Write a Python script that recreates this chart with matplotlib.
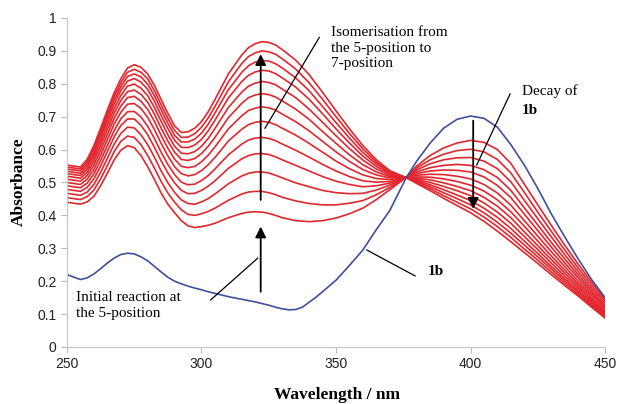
import matplotlib
matplotlib.use("Agg")
import matplotlib.pyplot as plt

# wavelength grid (nm) the red spectra were read at
wavelength = [250, 255, 257.5, 260, 262.5, 265, 267.5, 270, 272.5, 275,
              277.5, 280, 282.5, 285, 287.5, 290, 292.5, 295, 297.5, 300,
              302.5, 305, 310, 315, 317.5, 320, 322.5, 325, 327.5, 330,
              335, 340, 345, 350, 355, 360, 365, 370, 376, 380,
              385, 390, 395, 400, 405, 410, 415, 420, 425, 430,
              435, 440, 445, 450]

# compound 1b (blue)
wavelength_1b = [250, 255, 257.5, 260, 262.5, 265, 267.5, 270, 272.5, 275,
                 277.5, 280, 282.5, 285, 287.5, 290, 292.5, 295, 297.5, 300,
                 302.5, 305, 310, 315, 317.5, 320, 322.5, 325, 327.5, 330,
                 332.5, 335, 337.5, 340, 342.5, 345, 350, 355, 360, 365,
                 370, 376, 380, 385, 390, 395, 400, 405, 410, 415,
                 420, 425, 430, 435, 440, 445, 450]
abs_1b = [0.220, 0.205, 0.210, 0.222, 0.238, 0.255, 0.270, 0.281, 0.285, 0.283,
          0.274, 0.262, 0.245, 0.228, 0.212, 0.200, 0.192, 0.185, 0.179, 0.174,
          0.168, 0.163, 0.153, 0.145, 0.141, 0.137, 0.132, 0.127, 0.121, 0.116,
          0.113, 0.114, 0.121, 0.136, 0.151, 0.168, 0.203, 0.248, 0.295, 0.357,
          0.415, 0.513, 0.565, 0.620, 0.665, 0.692, 0.702, 0.695, 0.668, 0.615,
          0.553, 0.482, 0.405, 0.335, 0.268, 0.205, 0.150]

# red spectra, first scan to last scan
scan_00 = [0.440, 0.434, 0.441, 0.458, 0.490, 0.528, 0.568, 0.598, 0.612, 0.606,
           0.582, 0.548, 0.509, 0.468, 0.434, 0.408, 0.384, 0.368, 0.363, 0.366,
           0.370, 0.376, 0.393, 0.406, 0.410, 0.411, 0.410, 0.406, 0.400, 0.393,
           0.384, 0.381, 0.384, 0.392, 0.405, 0.422, 0.448, 0.478, 0.515, 0.550,
           0.582, 0.605, 0.620, 0.628, 0.622, 0.600, 0.558, 0.495, 0.432, 0.370,
           0.310, 0.252, 0.197, 0.145]
scan_01 = [0.454, 0.448, 0.457, 0.477, 0.511, 0.551, 0.593, 0.625, 0.641, 0.637,
           0.615, 0.582, 0.544, 0.503, 0.468, 0.440, 0.417, 0.403, 0.400, 0.405,
           0.412, 0.422, 0.446, 0.465, 0.471, 0.473, 0.473, 0.469, 0.463, 0.455,
           0.444, 0.436, 0.432, 0.432, 0.437, 0.445, 0.463, 0.485, 0.515, 0.544,
           0.569, 0.586, 0.597, 0.601, 0.593, 0.570, 0.529, 0.470, 0.410, 0.352,
           0.295, 0.240, 0.188, 0.138]
scan_02 = [0.467, 0.461, 0.471, 0.494, 0.531, 0.573, 0.616, 0.649, 0.668, 0.666,
           0.645, 0.615, 0.577, 0.535, 0.499, 0.470, 0.447, 0.436, 0.434, 0.441,
           0.451, 0.465, 0.496, 0.520, 0.528, 0.532, 0.532, 0.529, 0.522, 0.514,
           0.499, 0.487, 0.476, 0.469, 0.466, 0.467, 0.477, 0.492, 0.515, 0.538,
           0.557, 0.569, 0.575, 0.576, 0.565, 0.542, 0.502, 0.446, 0.390, 0.335,
           0.281, 0.229, 0.179, 0.132]
scan_03 = [0.479, 0.473, 0.485, 0.511, 0.550, 0.594, 0.638, 0.673, 0.693, 0.693,
           0.674, 0.645, 0.607, 0.566, 0.529, 0.499, 0.476, 0.466, 0.467, 0.476,
           0.489, 0.505, 0.543, 0.572, 0.582, 0.587, 0.588, 0.585, 0.578, 0.569,
           0.552, 0.535, 0.518, 0.504, 0.494, 0.487, 0.490, 0.498, 0.515, 0.532,
           0.545, 0.552, 0.555, 0.552, 0.539, 0.515, 0.476, 0.423, 0.371, 0.318,
           0.268, 0.219, 0.171, 0.125]
scan_04 = [0.490, 0.484, 0.498, 0.526, 0.567, 0.612, 0.657, 0.693, 0.715, 0.716,
           0.699, 0.671, 0.634, 0.592, 0.555, 0.524, 0.501, 0.493, 0.495, 0.506,
           0.521, 0.541, 0.584, 0.617, 0.629, 0.635, 0.637, 0.634, 0.627, 0.617,
           0.598, 0.577, 0.555, 0.535, 0.518, 0.505, 0.501, 0.503, 0.515, 0.527,
           0.535, 0.538, 0.537, 0.532, 0.517, 0.491, 0.454, 0.404, 0.354, 0.304,
           0.256, 0.210, 0.164, 0.120]
scan_05 = [0.500, 0.494, 0.510, 0.540, 0.583, 0.630, 0.677, 0.713, 0.738, 0.740,
           0.725, 0.698, 0.661, 0.619, 0.581, 0.548, 0.527, 0.520, 0.524, 0.536,
           0.554, 0.576, 0.626, 0.662, 0.676, 0.683, 0.686, 0.683, 0.676, 0.665,
           0.644, 0.619, 0.592, 0.565, 0.542, 0.523, 0.512, 0.509, 0.515, 0.522,
           0.525, 0.524, 0.519, 0.511, 0.494, 0.468, 0.431, 0.384, 0.337, 0.290,
           0.245, 0.200, 0.157, 0.115]
scan_06 = [0.510, 0.504, 0.521, 0.553, 0.598, 0.646, 0.694, 0.732, 0.758, 0.762,
           0.747, 0.722, 0.686, 0.643, 0.604, 0.571, 0.549, 0.545, 0.549, 0.563,
           0.583, 0.608, 0.663, 0.703, 0.719, 0.726, 0.730, 0.727, 0.720, 0.708,
           0.685, 0.657, 0.625, 0.593, 0.564, 0.539, 0.523, 0.514, 0.515, 0.517,
           0.516, 0.511, 0.503, 0.492, 0.474, 0.447, 0.411, 0.367, 0.322, 0.277,
           0.234, 0.192, 0.150, 0.109]
scan_07 = [0.519, 0.513, 0.531, 0.565, 0.612, 0.661, 0.710, 0.749, 0.776, 0.781,
           0.768, 0.744, 0.708, 0.665, 0.626, 0.592, 0.570, 0.567, 0.573, 0.588,
           0.610, 0.637, 0.697, 0.741, 0.758, 0.766, 0.770, 0.767, 0.760, 0.748,
           0.723, 0.692, 0.655, 0.619, 0.584, 0.554, 0.532, 0.518, 0.515, 0.513,
           0.508, 0.499, 0.488, 0.475, 0.455, 0.428, 0.393, 0.350, 0.308, 0.266,
           0.225, 0.185, 0.144, 0.105]
scan_08 = [0.527, 0.521, 0.540, 0.576, 0.624, 0.675, 0.724, 0.764, 0.793, 0.799,
           0.787, 0.764, 0.728, 0.686, 0.645, 0.610, 0.589, 0.587, 0.594, 0.610,
           0.634, 0.664, 0.728, 0.775, 0.793, 0.802, 0.807, 0.804, 0.797, 0.784,
           0.758, 0.723, 0.683, 0.642, 0.603, 0.568, 0.541, 0.522, 0.515, 0.509,
           0.500, 0.488, 0.475, 0.460, 0.438, 0.410, 0.376, 0.336, 0.296, 0.255,
           0.216, 0.178, 0.139, 0.101]
scan_09 = [0.534, 0.528, 0.548, 0.586, 0.636, 0.688, 0.738, 0.779, 0.808, 0.816,
           0.805, 0.783, 0.747, 0.704, 0.664, 0.628, 0.607, 0.606, 0.614, 0.631,
           0.657, 0.689, 0.757, 0.807, 0.826, 0.836, 0.841, 0.839, 0.831, 0.818,
           0.790, 0.753, 0.709, 0.663, 0.620, 0.580, 0.549, 0.526, 0.515, 0.506,
           0.493, 0.478, 0.462, 0.445, 0.422, 0.394, 0.360, 0.322, 0.284, 0.245,
           0.208, 0.171, 0.134, 0.098]
scan_10 = [0.541, 0.535, 0.556, 0.595, 0.646, 0.699, 0.750, 0.791, 0.822, 0.830,
           0.821, 0.799, 0.764, 0.721, 0.680, 0.643, 0.623, 0.623, 0.632, 0.650,
           0.677, 0.711, 0.782, 0.835, 0.855, 0.866, 0.871, 0.869, 0.861, 0.848,
           0.818, 0.779, 0.731, 0.682, 0.635, 0.591, 0.556, 0.530, 0.515, 0.503,
           0.487, 0.469, 0.451, 0.432, 0.408, 0.379, 0.346, 0.310, 0.274, 0.237,
           0.201, 0.166, 0.129, 0.094]
scan_11 = [0.547, 0.541, 0.563, 0.604, 0.655, 0.709, 0.761, 0.803, 0.835, 0.844,
           0.835, 0.815, 0.779, 0.736, 0.695, 0.658, 0.637, 0.638, 0.648, 0.668,
           0.696, 0.731, 0.806, 0.862, 0.883, 0.894, 0.900, 0.897, 0.890, 0.876,
           0.845, 0.803, 0.753, 0.700, 0.649, 0.602, 0.562, 0.533, 0.515, 0.500,
           0.481, 0.460, 0.440, 0.420, 0.395, 0.366, 0.333, 0.298, 0.264, 0.228,
           0.194, 0.160, 0.125, 0.091]
scan_12 = [0.553, 0.547, 0.570, 0.612, 0.665, 0.720, 0.772, 0.815, 0.848, 0.858,
           0.850, 0.830, 0.795, 0.752, 0.710, 0.672, 0.652, 0.654, 0.665, 0.685,
           0.715, 0.752, 0.830, 0.888, 0.910, 0.922, 0.928, 0.926, 0.918, 0.904,
           0.872, 0.828, 0.774, 0.718, 0.663, 0.612, 0.569, 0.536, 0.515, 0.497,
           0.475, 0.452, 0.430, 0.408, 0.382, 0.352, 0.320, 0.287, 0.254, 0.220,
           0.187, 0.155, 0.121, 0.088]

scans = [scan_00, scan_01, scan_02, scan_03, scan_04, scan_05, scan_06,
         scan_07, scan_08, scan_09, scan_10, scan_11, scan_12]

xticks = [250, 300, 350, 400, 450]
yticks = [0, 0.1, 0.2, 0.3, 0.4, 0.5, 0.6, 0.7, 0.8, 0.9, 1]
ytick_labels = ["0", "0.1", "0.2", "0.3", "0.4", "0.5", "0.6", "0.7", "0.8", "0.9", "1"]

RED = "#e3262e"
BLUE = "#3f4f9e"
SERIF = "Liberation Serif"
SANS = "Liberation Sans"

fig = plt.figure(figsize=(6.18, 4.04), dpi=100)
ax = fig.add_axes([0.1084, 0.1411, 0.8706, 0.8144])

for s in scans:
    ax.plot(wavelength, s, color=RED, lw=1.2, solid_joinstyle="round")
ax.plot(wavelength_1b, abs_1b, color=BLUE, lw=1.2, solid_joinstyle="round")

ax.set_xlim(250, 450)
ax.set_ylim(0, 1)
ax.set_xticks(xticks)
ax.set_yticks(yticks)
ax.set_yticklabels(ytick_labels)
for lab in ax.get_xticklabels() + ax.get_yticklabels():
    lab.set_fontfamily(SANS)
    lab.set_fontsize(10)
    lab.set_color("#222222")
ax.tick_params(direction="out", length=4, color="#bbbbbb", width=0.8)
for side in ["top", "right"]:
    ax.spines[side].set_visible(False)
for side in ["left", "bottom"]:
    ax.spines[side].set_color("#c8c8c8")
    ax.spines[side].set_linewidth(0.9)

fig.text(0.03, 0.55, "Absorbance", rotation=90, ha="center", va="center",
         family=SERIF, fontweight="bold", fontsize=12.5)
fig.text(0.545, 0.022, "Wavelength / nm", ha="center", va="center",
         family=SERIF, fontweight="bold", fontsize=12.5)

# arrows
arrow = dict(arrowstyle="-|>", color="black", lw=1.3, mutation_scale=16, shrinkA=0, shrinkB=0)
ax.annotate("", xy=(322, 0.89), xytext=(322, 0.447), arrowprops=arrow)
ax.annotate("", xy=(322, 0.366), xytext=(322, 0.168), arrowprops=arrow)
ax.annotate("", xy=(401, 0.42), xytext=(401, 0.688), arrowprops=arrow)

# leader lines and labels
ax.plot([343.8, 323.6], [0.941, 0.665], color="black", lw=0.9)
ax.plot([303.4, 320.9], [0.143, 0.270], color="black", lw=0.9)
ax.plot([414.7, 402.3], [0.769, 0.553], color="black", lw=0.9)
ax.plot([361.4, 379.4], [0.295, 0.216], color="black", lw=0.9)

ax.text(348, 0.975, "Isomerisation from\nthe 5-position to\n7-position", ha="left", va="top",
        family=SERIF, fontsize=11, linespacing=1.25)
ax.text(253.3, 0.17, "Initial reaction at\nthe 5-position", ha="left", va="top",
        family=SERIF, fontsize=11, linespacing=1.25)
ax.text(419, 0.8, "Decay of", ha="left", va="top", family=SERIF, fontsize=11)
ax.text(419, 0.74, "1b", ha="left", va="top", family=SERIF, fontsize=11, fontweight="bold")
ax.text(384.2, 0.229, "1b", ha="left", va="center", family=SERIF, fontsize=11, fontweight="bold")

fig.savefig("out.png", dpi=100)
